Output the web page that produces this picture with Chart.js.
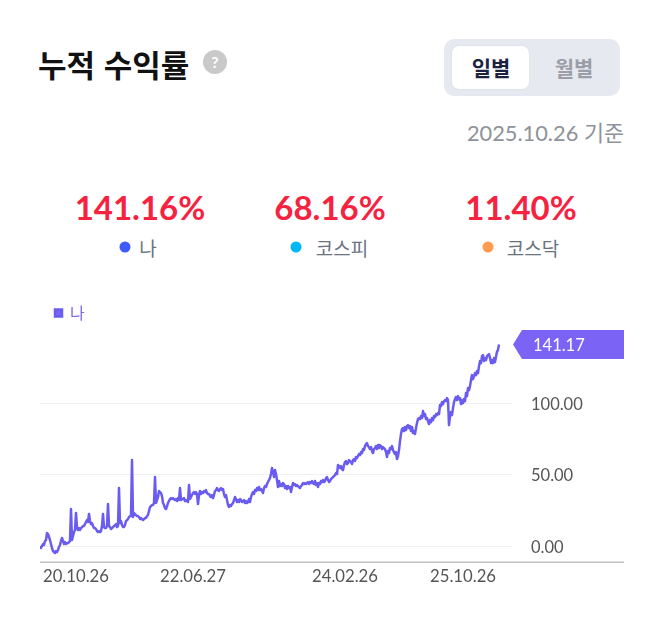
<!DOCTYPE html>
<html lang="ko"><head><meta charset="utf-8">
<script src="https://cdn.jsdelivr.net/npm/chart.js@4"></script>
<style>
html,body{margin:0;padding:0;background:#fff;width:660px;height:625px;overflow:hidden;font-family:Lato,"Noto Sans CJK KR",sans-serif}
.a{position:absolute;white-space:nowrap;line-height:1}
.c{transform:translate(-50%,-50%)}
.v{transform:translateY(-50%)}
.dot{position:absolute;width:11px;height:11px;border-radius:50%;transform:translate(-50%,-50%)}
</style></head><body>
<div class="a v" id="title" style="left:38px;top:63px;font-size:31px;font-weight:700;color:#111;font-family:'Noto Sans CJK KR'">누적 수익률</div>
<div class="a" style="left:203px;top:50px;width:24px;height:24px;border-radius:50%;background:#c9c9c9;color:#fff;font:700 16px/24px Lato;text-align:center">?</div>
<div class="a" style="left:444px;top:39px;width:176px;height:57px;border-radius:10px;background:#e6e9ef"></div>
<div class="a" style="left:452px;top:46px;width:77px;height:43px;border-radius:7px;background:#fff;box-shadow:0 0 2px #d5d8de"></div>
<div class="a c" style="left:491px;top:67px;font-size:21px;font-weight:700;color:#1b2340;font-family:'Noto Sans CJK KR'">일별</div>
<div class="a c" style="left:574px;top:67px;font-size:21px;font-weight:700;color:#9b9ea6;font-family:'Noto Sans CJK KR'">월별</div>
<div class="a v" style="right:36px;top:133px;font-size:21.8px;color:#8e9299">2025.10.26 기준</div>
<div class="a c" style="left:140px;top:207px;font-size:33px;font-weight:700;color:#f5233f">141.16%</div>
<div class="a c" style="left:330px;top:207px;font-size:33px;font-weight:700;color:#f5233f">68.16%</div>
<div class="a c" style="left:521px;top:207px;font-size:33px;font-weight:700;color:#f5233f">11.40%</div>
<div class="dot" style="left:125px;top:247px;background:#3d5afe"></div>
<div class="a c" style="left:148px;top:248px;font-size:19px;color:#6b7280">나</div>
<div class="dot" style="left:296px;top:247px;background:#00b7f5"></div>
<div class="a c" style="left:342px;top:248px;font-size:19px;color:#6b7280">코스피</div>
<div class="dot" style="left:488px;top:247px;background:#ff9b50"></div>
<div class="a c" style="left:533px;top:248px;font-size:19px;color:#6b7280">코스닥</div>
<canvas id="chart" width="660" height="310" style="position:absolute;left:0;top:290px;width:660px;height:310px"></canvas>
<script>
const seriesName = "나";
const xTickIndex = [3, 153, 305, 456];
const xTickLabels = ["20.10.26", "22.06.27", "24.02.26", "25.10.26"];
const yTickValues = [0, 50, 100];
const lastLabel = "141.17";
const values = [
0,-1.4,0,1.4,.7,3.5,4.2,9.1,8.4,6.3,4.2,1.4,-1.4,-3.5,-4.2,-4.9,-3.5,-4.2,-2.8,-.7,
.7,3.5,5.6,3.5,1.4,2.8,1.4,2.1,2.1,2.8,3.5,25.9,4.2,7,9.8,11.2,23.1,12.6,11.2,12.6,
11.2,12.6,13.3,14,14,15.4,16.8,18.2,16.8,22.4,17.5,15.4,16.1,14,12.6,12.6,11.9,10.5,9.8,10.5,
9.8,10.5,14,22.4,13.3,12.6,12.6,14,29.4,14,13.3,11.9,12.6,13.3,14,14.7,15.4,13.3,14,40.6,
16.1,17.5,14.7,13.3,13.3,14.7,17.5,18.2,18.9,20.3,21,21,60.2,20.3,23.1,22.4,21.7,21,21,20.3,
18.9,19.6,18.9,18.2,18.9,19.6,19.6,21,21.7,24.5,27.3,28,28.7,28.7,30.1,48.3,30.1,32.2,34.3,38.5,
37.8,37.1,35,30.1,28.7,26.6,25.9,28,30.1,31.5,32.9,33.6,32.9,33.6,32.9,32.2,32.9,31.5,33.6,32.2,
40.6,32.2,32.9,32.9,33.6,31.5,32.2,31.5,30.8,42.7,32.9,34.3,35.7,37.1,37.8,36.4,37.8,36.4,29.4,35.7,
38.5,36.4,37.8,37.1,38.5,37.8,39.2,37.1,36.4,36.4,35,34.3,35.7,33.6,35.7,38.5,39.2,40.6,39.2,38.5,
39.9,40.6,39.2,39.9,36.4,34.3,35.7,32.2,28.7,27.3,28.7,28,29.4,30.1,32.2,34.3,32.9,30.8,32.2,30.8,
32.9,32.2,30.8,31.5,32.2,30.1,31.5,30.1,30.8,32.9,30.8,34.3,36.4,37.8,36.4,39.2,38.5,40.6,39.2,41.3,
39.2,39.9,38.5,37.1,40.6,42,41.3,43.4,44.8,46.2,47.6,50.4,54.6,51.8,48.3,53.2,50.4,46.2,41.3,45.5,
42,43.4,42,44.1,43.4,40.6,42,39.9,42,40.6,41.3,37.8,41.3,44.1,42.7,43.4,42,42.7,42,41.3,
40.6,42,42.7,44.1,43.4,44.1,43.4,44.1,44.8,43.4,44.8,44.1,45.5,44.1,43.4,45.5,42.7,44.1,41.3,44.1,
43.4,45.5,44.8,46.2,44.8,45.5,47.6,48.3,46.2,44.8,45.5,46.9,47.6,48.3,49,49.7,51.1,50.4,56.7,56,
54.6,56,53.9,53.2,56.7,58.8,59.5,57.4,58.1,60.2,59.5,58.8,57.4,60.2,60.9,59.5,62.3,61.6,63,64.4,
63.7,65.8,65.1,67.9,67.2,70,71.4,72.1,70,69.3,67.9,69.3,66.5,65.1,67.9,68.6,70,67.9,70.7,68.6,
70.7,70,67.9,69.3,68.6,67.9,65.8,62.3,66.5,65.1,68.6,67.9,70,67.2,65.8,64.4,65.8,60.9,63,67.2,
73.5,78.4,81.9,82.6,80.5,83.3,81.2,84,84.7,82.6,84,80.5,83.3,79.1,80.5,78.4,82.6,86.1,88.9,89.6,
88.9,91,89.6,94.5,91,92.4,88.9,89.6,87.5,85.4,88.2,86.8,89.6,88.2,91,90.3,92.4,91.7,93.1,92.4,
98.7,98,100.8,99.4,101.5,102.2,101.5,103.6,102.2,84.7,91,93.8,91.7,96.6,100.8,102.9,104.3,102.2,105,102.9,
103.6,99.4,102.2,100.1,102.9,101.5,107.1,105,110.6,109.2,112,116.2,119.7,116.9,119,121.1,119.7,122.5,121.1,126,
129.5,128.1,133,133.7,129.5,131.6,130.2,133,133.7,134.4,131.6,128.1,130.2,128.1,131.6,128.8,132.6,136,137.4,141.17
];
const points = values.map((v, i) => ({ x: i, y: v }));
const LINE = "#6a5cf0", TAG = "#7a63f5";
const overlay = {
  id: "overlay",
  afterDraw(chart) {
    const { ctx, chartArea: a, scales: { y } } = chart;
    ctx.save();
    ctx.strokeStyle = "#c2c2c2"; ctx.lineWidth = 1.5;
    ctx.beginPath(); ctx.moveTo(a.left, a.bottom + .3); ctx.lineTo(624, a.bottom + .3); ctx.stroke();
    const cy = y.getPixelForValue(values[values.length - 1]);
    ctx.fillStyle = TAG;
    ctx.beginPath();
    ctx.moveTo(513, cy); ctx.lineTo(522, cy - 14.5); ctx.lineTo(624, cy - 14.5);
    ctx.lineTo(624, cy + 14.5); ctx.lineTo(522, cy + 14.5); ctx.closePath(); ctx.fill();
    ctx.fillStyle = "#fff"; ctx.font = "16.5px Lato"; ctx.textAlign = "left"; ctx.textBaseline = "middle";
    ctx.fillText(lastLabel, 533, cy + 1);
    ctx.restore();
  }
};
new Chart(document.getElementById("chart"), {
  type: "line",
  data: { datasets: [{ label: seriesName, data: points, borderColor: LINE, backgroundColor: TAG,
    borderWidth: 2.5, pointRadius: 0, tension: 0, borderJoinStyle: "round" }] },
  options: {
    responsive: false, animation: false, devicePixelRatio: 1,
    layout: { padding: { left: 40, top: 0, right: 36, bottom: 0 } },
    plugins: {
      tooltip: { enabled: false },
      legend: { position: "top", align: "start",
        labels: { usePointStyle: true, pointStyle: "rect", boxWidth: 7, boxHeight: 7, padding: 15,
          color: "#7b68ee", font: { size: 16, family: "'Noto Sans CJK KR'" } } }
    },
    scales: {
      x: { type: "linear", min: 0, max: 472,
        afterBuildTicks(s) { s.ticks = xTickIndex.map(v => ({ value: v })); },
        afterFit(s) { s.height = 38; },
        grid: { display: false, drawTicks: false }, border: { display: false },
        ticks: { align: "inner", autoSkip: false, maxRotation: 0, padding: 5, color: "#555",
          font: { size: 16.7, family: "Lato" }, callback: (v, i) => xTickLabels[i] } },
      y: { type: "linear", position: "right", min: -11.2, max: 150.6,
        afterBuildTicks(s) { s.ticks = yTickValues.map(v => ({ value: v })); },
        afterFit(s) { s.width = 112; },
        grid: { color: "#f1f1f1", lineWidth: 1, drawTicks: false }, border: { display: false },
        ticks: { padding: 19, labelOffset: 1.5, color: "#555", font: { size: 16.5, family: "Lato" },
          callback: v => v.toFixed(2) } }
    }
  },
  plugins: [overlay]
});
</script>
</body></html>
